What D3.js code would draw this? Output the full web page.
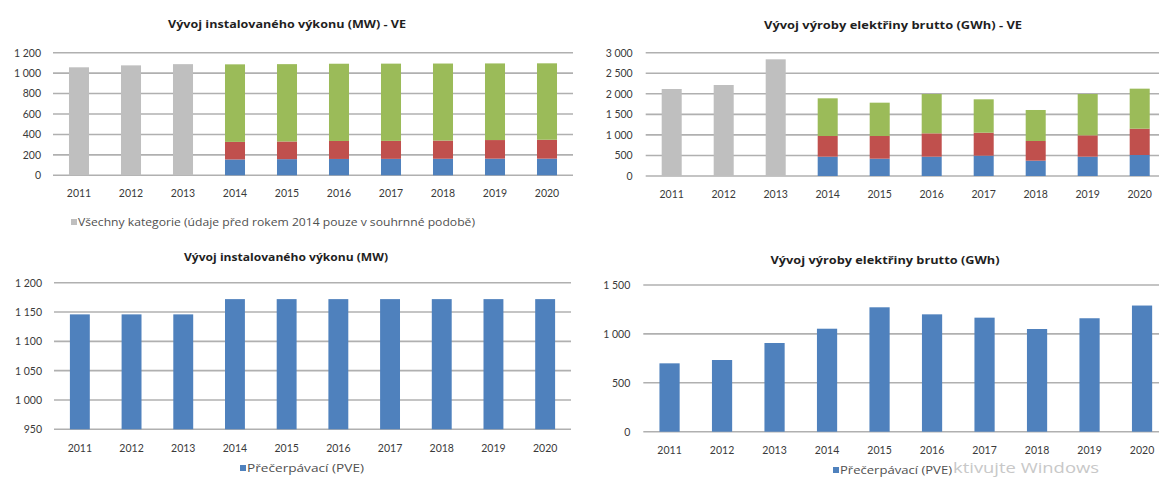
<!DOCTYPE html>
<html>
<head>
<meta charset="utf-8">
<script src="https://cdn.jsdelivr.net/npm/d3@7/dist/d3.min.js"></script>
<style>
  html, body { margin: 0; padding: 0; background: #ffffff; }
  svg { display: block; font-family: Lato, "Open Sans", sans-serif; }
</style>
</head>
<body>
<svg id="chart" width="1159" height="478"></svg>
<script>
// ---------- DATA ----------
const years = ["2011","2012","2013","2014","2015","2016","2017","2018","2019","2020"];
const yearsAgg = ["2011","2012","2013"];
const yearsSplit = ["2014","2015","2016","2017","2018","2019","2020"];

// Instalovaný výkon (MW) - VE
const capAll   = [1057, 1076, 1088];
const capBlue  = [155, 158, 160, 161, 162, 163, 163];
const capRed   = [172, 173, 176, 176, 178, 182, 185];
const capGreen = [759, 757, 756, 756, 754, 750, 748];
const capTicks = [0, 200, 400, 600, 800, 1000, 1200];

// Výroba elektřiny brutto (GWh) - VE
const prodAll   = [2117, 2214, 2839];
const prodBlue  = [470, 421, 470, 495, 373, 470, 511];
const prodRed   = [503, 552, 568, 559, 479, 519, 640];
const prodGreen = [917, 811, 957, 812, 754, 1006, 974];
const prodTicks = [0, 500, 1000, 1500, 2000, 2500, 3000];

// Přečerpávací (PVE)
const pveCap  = [1146, 1146, 1146, 1172, 1172, 1172, 1172, 1172, 1172, 1172];
const pveCapTicks = [950, 1000, 1050, 1100, 1150, 1200];
const pveProd = [699, 733, 907, 1053, 1272, 1200, 1166, 1050, 1160, 1290];
const pveProdTicks = [0, 500, 1000, 1500];

const titles = [
  "Vývoj instalovaného výkonu (MW) - VE",
  "Vývoj výroby elektřiny brutto (GWh) - VE",
  "Vývoj instalovaného výkonu (MW)",
  "Vývoj výroby elektřiny brutto (GWh)"
];
const legendAll = "Všechny kategorie (údaje před rokem 2014 pouze v souhrnné podobě)";
const legendPve = "Přečerpávací (PVE)";
const watermark = "ktivujte Windows";

// ---------- STYLE ----------
const C = { gray: "#bfbfbf", blue: "#4f81bd", red: "#c0504d", green: "#9bbb59",
            grid: "#b0b0b0", text: "#3a3a3a", title: "#1f1f1f" };
const W = 1159;
const TITLE_FONT = "'Open Sans', Lato, sans-serif";

const fmt = d3.formatLocale({decimal: ",", thousands: " ", grouping: [3], currency: ["", ""]}).format(",d");
const svg = d3.select("#chart");
svg.append("rect").attr("width", W).attr("height", 478).attr("fill", "#fff");

function panel(o) {
  const g = svg.append("g");
  const x = d3.scaleBand().domain(years).range(o.xr).paddingInner(0.615).paddingOuter(0.3075);
  const y = d3.scaleLinear().domain(o.dom).range(o.yr);
  const gx1 = Math.min(o.xr[1], W);
  g.selectAll("line.grid").data(o.ticks).join("line")
    .attr("x1", o.xr[0]).attr("x2", gx1)
    .attr("y1", d => y(d)).attr("y2", d => y(d))
    .attr("stroke", C.grid).attr("stroke-width", 1.6);
  const ya = g.append("g").attr("transform", `translate(${o.xr[0]},0)`)
    .call(d3.axisLeft(y).tickValues(o.ticks).tickSize(0).tickPadding(o.lp).tickFormat(fmt));
  ya.select(".domain").remove();
  ya.selectAll("text").attr("fill", C.text).style("font-size", "10.5px").style("font-family", "Lato, sans-serif");
  const xa = g.append("g").attr("transform", `translate(0,${o.yr[0]})`)
    .call(d3.axisBottom(x).tickSize(0).tickPadding(o.xp));
  xa.select(".domain").remove();
  xa.selectAll("text").attr("fill", C.text).style("font-size", "10.5px").style("font-family", "Lato, sans-serif");
  g.append("text").attr("x", o.tx).attr("y", o.ty).attr("text-anchor", "middle")
    .attr("fill", C.title).style("font-size", "11px").style("font-weight", "bold")
    .style("font-family", TITLE_FONT)
    .attr("textLength", o.tw).attr("lengthAdjust", "spacingAndGlyphs")
    .text(o.title);
  return {g, x, y};
}

function legend(g, sx, sy, color, label, width) {
  g.append("rect").attr("x", sx).attr("y", sy).attr("width", 6).attr("height", 6).attr("fill", color);
  g.append("text").attr("x", sx + 7).attr("y", sy + 7).attr("fill", "#505050")
    .style("font-size", "10.5px").style("font-family", "'Open Sans', sans-serif")
    .attr("textLength", width).attr("lengthAdjust", "spacingAndGlyphs").text(label);
}

// ---------- TOP LEFT ----------
(function () {
  const p = panel({xr: [53, 573], yr: [175.3, 52.7], dom: [0, 1200], ticks: capTicks, lp: 12, xp: 14,
                   tx: 287, ty: 28, tw: 238, title: titles[0]});
  p.g.selectAll("rect.agg").data(yearsAgg.map((d, i) => ({year: d, v: capAll[i]}))).join("rect")
    .attr("x", d => p.x(d.year)).attr("width", p.x.bandwidth())
    .attr("y", d => p.y(d.v)).attr("height", d => p.y(0) - p.y(d.v)).attr("fill", C.gray);
  const rows = yearsSplit.map((d, i) => ({year: d, blue: capBlue[i], red: capRed[i], green: capGreen[i]}));
  const st = d3.stack().keys(["blue", "red", "green"])(rows);
  p.g.selectAll("g.s").data(st).join("g").attr("fill", s => C[s.key])
    .selectAll("rect").data(s => s).join("rect")
    .attr("x", d => p.x(d.data.year)).attr("width", p.x.bandwidth())
    .attr("y", d => p.y(d[1])).attr("height", d => p.y(d[0]) - p.y(d[1]));
  legend(p.g, 71, 219, C.gray, legendAll, 397);
})();

// ---------- TOP RIGHT ----------
(function () {
  const p = panel({xr: [645.7, 1165.7], yr: [176, 52.7], dom: [0, 3000], ticks: prodTicks, lp: 13, xp: 15,
                   tx: 893, ty: 29, tw: 258, title: titles[1]});
  p.g.selectAll("rect.agg").data(yearsAgg.map((d, i) => ({year: d, v: prodAll[i]}))).join("rect")
    .attr("x", d => p.x(d.year)).attr("width", p.x.bandwidth())
    .attr("y", d => p.y(d.v)).attr("height", d => p.y(0) - p.y(d.v)).attr("fill", C.gray);
  const rows = yearsSplit.map((d, i) => ({year: d, blue: prodBlue[i], red: prodRed[i], green: prodGreen[i]}));
  const st = d3.stack().keys(["blue", "red", "green"])(rows);
  p.g.selectAll("g.s").data(st).join("g").attr("fill", s => C[s.key])
    .selectAll("rect").data(s => s).join("rect")
    .attr("x", d => p.x(d.data.year)).attr("width", p.x.bandwidth())
    .attr("y", d => p.y(d[1])).attr("height", d => p.y(d[0]) - p.y(d[1]));
})();

// ---------- BOTTOM LEFT ----------
(function () {
  const p = panel({xr: [54, 571], yr: [429.3, 282.7], dom: [950, 1200], ticks: pveCapTicks, lp: 12, xp: 15,
                   tx: 286, ty: 261, tw: 204, title: titles[2]});
  p.g.selectAll("rect.b").data(years.map((d, i) => ({year: d, v: pveCap[i]}))).join("rect")
    .attr("x", d => p.x(d.year)).attr("width", p.x.bandwidth())
    .attr("y", d => p.y(d.v)).attr("height", d => p.y(950) - p.y(d.v)).attr("fill", C.blue);
  legend(p.g, 240, 465, C.blue, legendPve, 117);
})();

// ---------- BOTTOM RIGHT ----------
(function () {
  const p = panel({xr: [643.3, 1168.3], yr: [431.7, 285], dom: [0, 1500], ticks: pveProdTicks, lp: 13, xp: 15,
                   tx: 885, ty: 264, tw: 229, title: titles[3]});
  p.g.selectAll("rect.b").data(years.map((d, i) => ({year: d, v: pveProd[i]}))).join("rect")
    .attr("x", d => p.x(d.year)).attr("width", p.x.bandwidth())
    .attr("y", d => p.y(d.v)).attr("height", d => p.y(0) - p.y(d.v)).attr("fill", C.blue);
  p.g.append("text").attr("x", 953).attr("y", 473).attr("fill", "#c8c8c8").style("font-size", "15px")
    .style("font-family", "'Open Sans', sans-serif")
    .attr("textLength", 146).attr("lengthAdjust", "spacingAndGlyphs").text(watermark);
  legend(p.g, 833, 467, C.blue, legendPve, 112);
})();
</script>
</body>
</html>
